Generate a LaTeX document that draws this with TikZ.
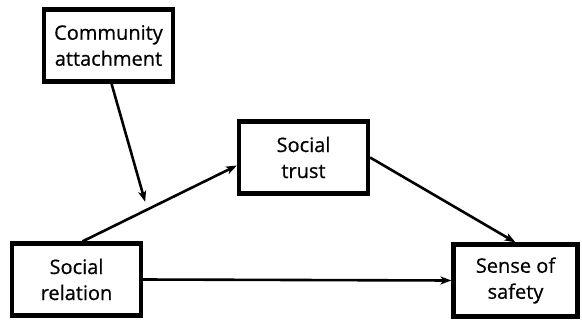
\documentclass[tikz,border=0pt]{standalone}
\usepackage{fontspec}
\setmainfont{Open Sans}[FakeBold=0.6]
\usetikzlibrary{arrows.meta}
\begin{document}
\begin{tikzpicture}[x=1pt,y=-1pt,
  box/.style={draw,line width=4.2pt,minimum width=129pt,minimum height=72pt,align=center,inner sep=2pt,
    font=\fontsize{20}{26}\selectfont},
  conn/.style={line width=2.6pt,-{Stealth[length=11pt,width=8pt,inset=3pt]}}]
\useasboundingbox (0,0) rectangle (582,322);
\node[box] (ca) at (108.5,45.5) {Community\\attachment};
\node[box] (st) at (303.5,157.5) {Social\\trust};
\node[box] (sr) at (76.5,279.5) {Social\\relation};
\node[box,minimum width=124pt] (ss) at (515.5,280.5) {Sense of\\safety};
\draw[conn] ([xshift=6pt]sr.north) -- ([yshift=-8pt]st.west) coordinate[pos=0.42] (m);
\draw[conn,shorten >=8pt] ([xshift=3pt]ca.south) -- (m);
\draw[conn] (st.east) -- (ss.north);
\draw[conn] (sr.east) -- (ss.west);
\end{tikzpicture}
\end{document}
